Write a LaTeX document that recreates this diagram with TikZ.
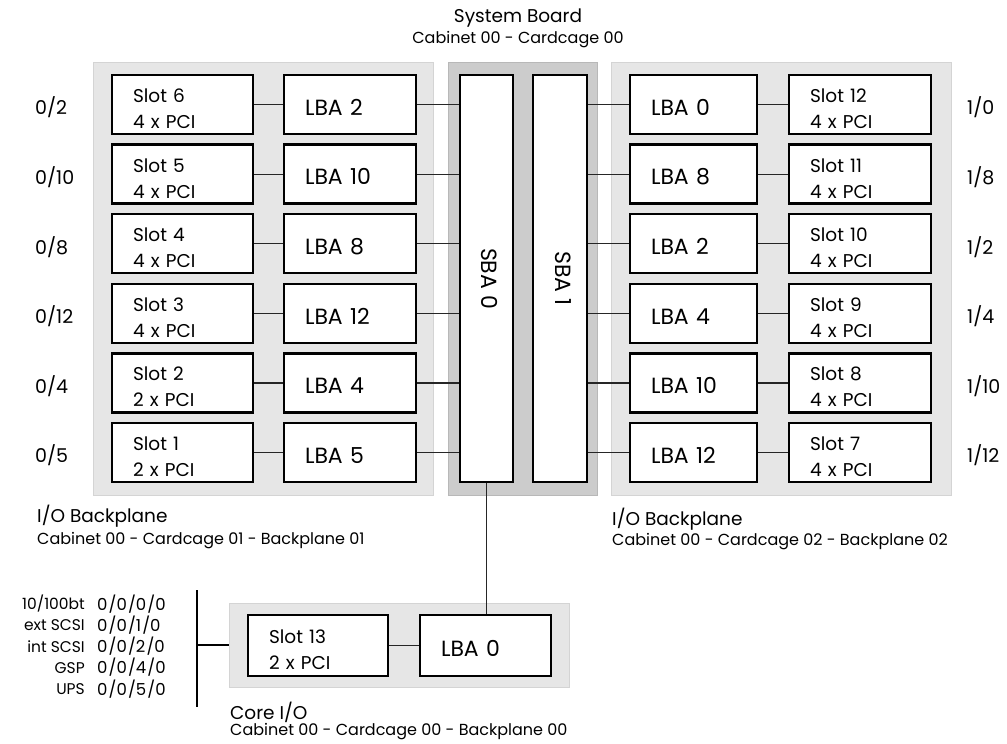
\documentclass[tikz,border=0pt]{standalone}
\usepackage{fontspec}
\setmainfont{Poppins}
\definecolor{bgl}{RGB}{230,230,230}
\definecolor{bgld}{RGB}{212,212,212}
\definecolor{bgs}{RGB}{204,204,204}
\definecolor{bgsd}{RGB}{184,184,184}
\newcommand{\uplift}[1]{\rule{0pt}{#1pt}}
\begin{document}
\begin{tikzpicture}[x=1pt,y=-1pt,
  box/.style={draw=black, line width=2.4pt, fill=white, inner sep=0pt, minimum height=59pt, align=left},
  slotbox/.style={box, font=\fontsize{18.5}{26}\selectfont},
  lbabox/.style={box, font=\fontsize{22}{26}\selectfont},
  conn/.style={draw=black!85, line width=1.2pt},
  busline/.style={draw=black, line width=2.2pt},
  lightbg/.style={fill=bgl, draw=bgld, line width=1pt, inner sep=0pt},
  sbabg/.style={fill=bgs, draw=bgsd, line width=1pt, inner sep=0pt},
  lbl/.style={inner sep=0pt, font=\fontsize{19}{22}\selectfont},
  buslbl/.style={inner sep=0pt, font=\fontsize{15.5}{18}\selectfont},
  busval/.style={inner sep=0pt, font=\fontsize{16.5}{18}\selectfont\addfontfeature{LetterSpace=7}},
  ttl/.style={inner sep=0pt, font=\fontsize{18.5}{22}\selectfont},
  subttl/.style={inner sep=0pt, font=\fontsize{16}{18}\selectfont}
]
\useasboundingbox (0,0) rectangle (1007,744);
\fill[white] (0,0) rectangle (1007,744);

% titles
\node[ttl] (sbt) at (518,18) {System Board};
\node[subttl] (sbs) at (518,40) {Cabinet 00 - Cardcage 00};

% backgrounds
\node[lightbg, minimum width=340pt, minimum height=433pt] (lbp) at (263,278.5) {};
\node[sbabg, minimum width=149pt, minimum height=433pt] (sbabg) at (522.5,278.5) {};
\node[lightbg, minimum width=340pt, minimum height=433pt] (rbp) at (781,278.5) {};

% SBA
\node[box, minimum width=53pt, minimum height=407pt] (sba0) at (486.5,278.5) {};
\node[rotate=-90, inner sep=0pt, font=\fontsize{22}{26}\selectfont] (sba0t) at (489.5,278.5) {SBA 0};
\node[box, minimum width=54pt, minimum height=407pt] (sba1) at (560,278.5) {};
\node[rotate=-90, inner sep=0pt, font=\fontsize{22}{26}\selectfont] (sba1t) at (563,278.5) {SBA 1};

% left rows
\foreach \i/\s/\p/\l/\ta/\tb in {0/6/4/2/0/2, 1/5/4/10/0/10, 2/4/4/8/0/8, 3/3/4/12/0/12, 4/2/2/4/0/4, 5/1/2/5/0/5}{
  \pgfmathsetmacro\cy{104.5+69.6*\i}
  \node[slotbox, minimum width=141pt, text width=99pt] (ls\i) at (182.5,\cy) {\uplift{22}Slot \s\\\p\ x PCI};
  \node[lbabox, minimum width=132pt, text width=90pt] (ll\i) at (350,\cy) {\uplift{21.5}LBA \l};
  \node[lbl, anchor=west] (lt\i) at (35,\cy+3) {\ta/\tb};
  \draw[conn] (ls\i.east) -- (ll\i.west);
  \draw[conn] (ll\i.east) -- (ll\i.east -| sba0.west);
}
% right rows
\foreach \i/\s/\p/\l/\ta/\tb in {0/12/4/0/1/0, 1/11/4/8/1/8, 2/10/4/2/1/2, 3/9/4/4/1/4, 4/8/4/10/1/10, 5/7/4/12/1/12}{
  \pgfmathsetmacro\cy{104.5+69.6*\i}
  \node[lbabox, minimum width=127pt, text width=85pt] (rl\i) at (693.5,\cy) {\uplift{21.5}LBA \l};
  \node[slotbox, minimum width=142pt, text width=100pt] (rs\i) at (860,\cy) {\uplift{22}Slot \s\\\p\ x PCI};
  \node[lbl, anchor=west] (rt\i) at (967,\cy+3) {\ta/\tb};
  \draw[conn] (rl\i.east) -- (rs\i.west);
  \draw[conn] (rl\i.west -| sba1.east) -- (rl\i.west);
}

% backplane labels
\node[ttl, anchor=west] (lbpt) at (37,516) {I/O Backplane};
\node[subttl, anchor=west] (lbps) at (37,541) {Cabinet 00 - Cardcage 01 - Backplane 01};
\node[ttl, anchor=west] (rbpt) at (612,519) {I/O Backplane};
\node[subttl, anchor=west] (rbps) at (612,542) {Cabinet 00 - Cardcage 02 - Backplane 02};

% core I/O
\node[lightbg, minimum width=340pt, minimum height=84pt] (core) at (399,645) {};
\node[slotbox, minimum width=140pt, minimum height=61pt, text width=98pt] (cs) at (318,645.5) {\uplift{22}Slot 13\\2 x PCI};
\node[lbabox, minimum width=131pt, minimum height=61pt, text width=89pt] (cl) at (485.5,645.5) {\uplift{21.5}LBA 0};
\draw[conn] (cs.east) -- (cl.west);
\draw[conn] (sba0.south) -- (sba0.south |- cl.north);

\node[ttl, anchor=west] (coret) at (230,712) {Core I/O};
\node[subttl, anchor=west] (cores) at (230,732) {Cabinet 00 - Cardcage 00 - Backplane 00};

% bus
\coordinate (busT) at (197,590);
\coordinate (busB) at (197,707);
\draw[busline] (busT) -- (busB);
\draw[busline] (core.west) -- (core.west -| busT);

\foreach \j/\n/\v in {0/10\slash100bt/0\slash0\slash0\slash0, 1/ext SCSI/0\slash0\slash1\slash0, 2/int SCSI/0\slash0\slash2\slash0, 3/GSP/0\slash0\slash4\slash0, 4/UPS/0\slash0\slash5\slash0}{
  \pgfmathsetmacro\by{604+21.2*\j}
  \node[buslbl, anchor=east] (bn\j) at (85,\by) {\n};
  \node[busval, anchor=west] (bv\j) at (97,\by) {\v};
}
\end{tikzpicture}
\end{document}
